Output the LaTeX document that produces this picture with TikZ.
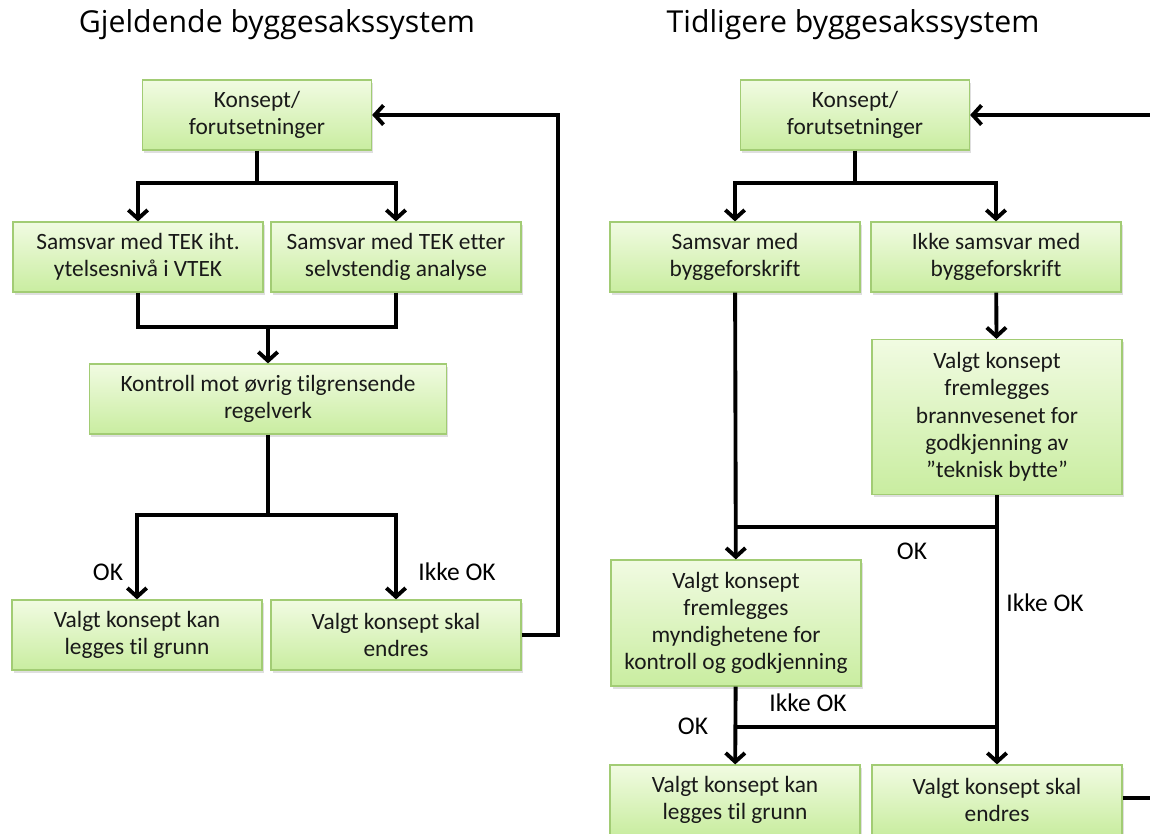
\documentclass[tikz,border=0pt]{standalone}
\usepackage{fontspec}
\setmainfont{Carlito}[Ligatures={NoCommon}]
\newfontfamily\titlefont{Open Sans}
\usepackage{xcolor}
\usepackage{tikz}
\usetikzlibrary{arrows.meta}
\usetikzlibrary{shadows}

\definecolor{boxtop}{HTML}{F1FBE2}
\definecolor{boxbot}{HTML}{C9EDA0}
\definecolor{boxline}{HTML}{A2CC74}

\tikzset{
  box/.style={draw=boxline, line width=0.7pt, top color=boxtop, bottom color=boxbot,
    minimum width=5cm, minimum height=1.4cm, align=center, inner sep=2pt,
    font=\fontsize{13.3}{15.5}\selectfont, text=black!90,
    drop shadow={opacity=0.25, shadow xshift=1pt, shadow yshift=-1.5pt}},
  lbl/.style={font=\fontsize{14.5}{17}\selectfont, inner sep=0pt},
  ttl/.style={font=\titlefont\fontsize{17.2}{20}\selectfont, inner sep=0pt}
}

\begin{document}
\begin{tikzpicture}[x=0.02cm, y=-0.02cm, >={Straight Barb[length=5pt,width=11pt]}, line width=2.2pt]
      \useasboundingbox (0,0) rectangle (1150,834);

      % gjeldende
      \node[ttl] (T0) at (277,25) {Gjeldende byggesakssystem};
      \node[box, minimum width=4.58cm] (K1) at (257,115) {Konsept/\\forutsetninger};
      \node[box] (S1) at (138,257) {Samsvar med TEK iht.\\ytelsesnivå i VTEK};
      \node[box] (S2) at (396,257) {Samsvar med TEK etter\\selvstendig analyse};
      \node[box, minimum width=7.14cm] (R1) at (268,399) {Kontroll mot øvrig tilgrensende\\regelverk};
      \node[box] (V1) at (137,635) {Valgt konsept kan\\legges til grunn};
      \node[box] (V2) at (396,635) {Valgt konsept skal\\endres};

      \coordinate (J1) at (257,183);
      \coordinate (J2) at (268,327);
      \coordinate (J3) at (268,515);
      \coordinate (L1) at (558,115);

      \draw (K1) -- (J1);
      \draw[->] (J1) -| (S1);
      \draw[->] (J1) -| (S2);
      \draw (S1.south) |- (J2);
      \draw (S2.south) |- (J2);
      \draw[->] (J2) -- (R1);
      \draw (R1) -- (J3);
      \draw[->] (J3) -| (V1);
      \draw[->] (J3) -| (V2);
      \draw[->] (V2.east) -| (L1) -- (K1.east);

      \node[lbl] (ok1) at (108,572) {OK};
      \node[lbl] (nok1) at (457,572) {Ikke OK};

      % tidligere
      \node[ttl] (T9) at (853,25) {Tidligere byggesakssystem};
      \node[box, minimum width=4.58cm] (K2) at (855,115) {Konsept/\\forutsetninger};
      \node[box] (A1) at (735,257) {Samsvar med\\byggeforskrift};
      \node[box] (A2) at (996,257) {Ikke samsvar med\\byggeforskrift};
      \node[box, minimum height=3.1cm] (B1) at (997,417) {Valgt konsept\\fremlegges\\brannvesenet for\\godkjenning av\\”teknisk bytte”};
      \node[box, minimum height=2.52cm] (M1) at (736,623) {Valgt konsept\\fremlegges\\myndighetene for\\kontroll og godkjenning};
      \node[box] (V3) at (735,800) {Valgt konsept kan\\legges til grunn};
      \node[box] (V4) at (997,800) {Valgt konsept skal\\endres};

      \coordinate (J4) at (855,183);
      \coordinate (J5) at (735,527);
      \coordinate (J6) at (997,527);
      \coordinate (J7) at (736,727);
      \coordinate (J8) at (997,727);
      \coordinate (E1) at (1150,798);
      \coordinate (E2) at (1150,115);

      \draw (K2) -- (J4);
      \draw[->] (J4) -| (A1);
      \draw[->] (J4) -| (A2);
      \draw[->] (A1) -- (M1);
      \draw[->] (A2) -- (B1);
      \draw[->] (B1) -- (V4);
      \draw (J5) -- (J6);
      \draw[->] (M1) -- (V3);
      \draw (J7) -- (J8);
      \draw (V4.east |- E1) -- (E1);
      \draw[->] (E2) -- (K2);

      \node[lbl] (ok2) at (912,551) {OK};
      \node[lbl] (nok2) at (1045,603) {Ikke OK};
      \node[lbl] (nok3) at (808,703) {Ikke OK};
      \node[lbl] (ok3) at (693,726) {OK};
    \end{tikzpicture}
\end{document}
